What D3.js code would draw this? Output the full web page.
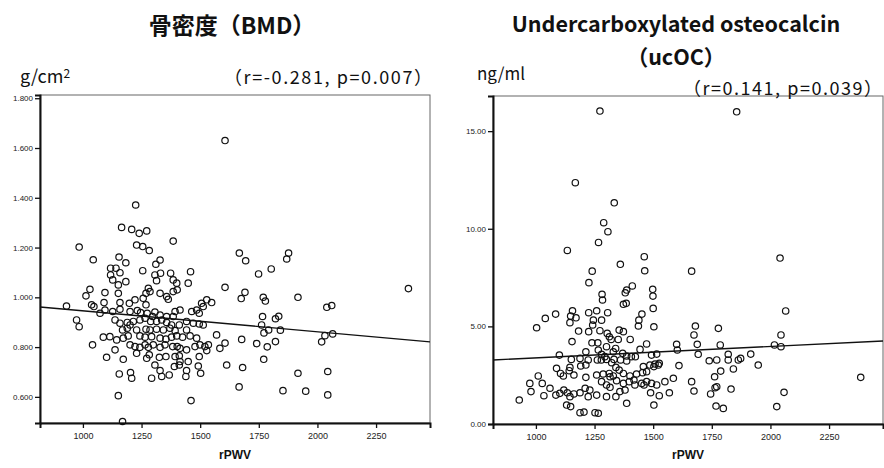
<!DOCTYPE html>
<html>
<head>
<meta charset="utf-8">
<script src="https://cdn.jsdelivr.net/npm/d3@7"></script>
<style>
  body { margin: 0; background: #fff; }
  svg { display: block; }
</style>
</head>
<body>
<div id="chart"></div>
<script>
// x values shared by both panels
var xTicks = [1000, 1250, 1500, 1750, 2000, 2250];
var xDomain = [817, 2480];

// left panel: BMD vs rPWV
var bmdTicks = [0.6, 0.8, 1.0, 1.2, 1.4, 1.6, 1.8];
var bmdDomain = [0.495, 1.813];
var bmdFit = [[817, 0.961], [2480, 0.821]];
var bmdPoints = [
  [1606,1.630],[1225,1.371],[1165,1.281],[1208,1.273],[1240,1.257],[1272,1.267],[1385,1.226],[984,1.202],
  [1229,1.210],[1255,1.204],[1283,1.188],[1044,1.151],[1154,1.162],[1183,1.139],[1329,1.150],[1311,1.133],
  [1118,1.117],[1141,1.117],[1158,1.099],[1255,1.107],[1307,1.090],[1331,1.097],[1118,1.090],[1127,1.070],
  [1183,1.063],[1314,1.067],[1374,1.097],[1385,1.070],[1400,1.057],[1459,1.103],[1449,1.057],[1151,1.050],
  [1279,1.036],[1269,1.016],[1286,1.023],[1329,1.016],[1357,1.003],[1364,0.992],[1385,1.023],[1402,1.030],
  [1030,1.032],[1013,1.006],[1094,1.019],[1151,1.016],[1158,0.979],[1198,0.976],[1222,0.990],[1257,0.996],
  [1269,0.970],[1037,0.970],[1047,0.963],[1090,0.979],[930,0.965],[1073,0.936],[1094,0.949],[1127,0.943],
  [1158,0.952],[1201,0.943],[1232,0.947],[1246,0.939],[1274,0.936],[1307,0.941],[1297,0.923],[1329,0.929],
  [1357,0.923],[1385,0.923],[1393,0.943],[1414,0.949],[1464,0.943],[1485,0.949],[1506,0.976],[1528,0.990],
  [1549,0.979],[1513,0.963],[1496,0.936],[973,0.909],[984,0.882],[1137,0.909],[1158,0.896],[1189,0.899],
  [1201,0.889],[1215,0.903],[1243,0.909],[1265,0.916],[1289,0.903],[1314,0.903],[1336,0.909],[1357,0.899],
  [1378,0.889],[1411,0.889],[1442,0.903],[1471,0.896],[1496,0.893],[1513,0.889],[1606,1.040],[1169,0.869],
  [1189,0.876],[1229,0.869],[1269,0.872],[1286,0.869],[1314,0.872],[1343,0.869],[1371,0.876],[1393,0.866],
  [1442,0.869],[1087,0.840],[1115,0.842],[1144,0.829],[1172,0.836],[1193,0.845],[1243,0.845],[1265,0.840],
  [1293,0.842],[1329,0.836],[1354,0.832],[1378,0.840],[1400,0.845],[1425,0.840],[1457,0.845],[1485,0.836],
  [1041,0.809],[1137,0.789],[1201,0.809],[1222,0.802],[1243,0.799],[1265,0.809],[1279,0.799],[1300,0.809],
  [1329,0.799],[1350,0.809],[1383,0.802],[1402,0.802],[1414,0.795],[1442,0.789],[1478,0.802],[1499,0.809],
  [1520,0.802],[1535,0.809],[1584,0.795],[1606,0.816],[1570,0.849],[1101,0.759],[1172,0.751],[1229,0.775],
  [1272,0.755],[1283,0.769],[1326,0.759],[1354,0.762],[1393,0.762],[1411,0.765],[1414,0.742],[1449,0.742],
  [1496,0.762],[1492,0.724],[1528,0.786],[1613,0.728],[1155,0.692],[1203,0.698],[1208,0.675],[1293,0.675],
  [1307,0.728],[1329,0.706],[1336,0.682],[1368,0.688],[1390,0.722],[1411,0.728],[1439,0.682],[1442,0.706],
  [1502,0.695],[1151,0.605],[1461,0.585],[1169,0.501],
  [1667,1.178],[1694,1.147],[1877,1.178],[1869,1.154],[1749,1.094],[1803,1.114],[2388,1.035],[1691,1.020],
  [1675,0.995],[1769,1.000],[1778,0.985],[1917,1.000],[2040,0.960],[2061,0.967],[1766,0.923],[1821,0.914],
  [1835,0.924],[1762,0.889],[1792,0.869],[1772,0.857],[1842,0.868],[1677,0.831],[1741,0.814],[1786,0.801],
  [1821,0.822],[2032,0.846],[2018,0.821],[2065,0.853],[1771,0.751],[1681,0.718],[1917,0.695],[2044,0.702],
  [1666,0.640],[1853,0.625],[1950,0.623],[2044,0.608]
];

// right panel: ucOC vs rPWV
var ucocTicks = [0, 5, 10, 15];
var ucocDomain = [0, 16.8];
var ucocFit = [[817, 3.28], [2480, 4.25]];
var ucocPoints = [
  [1273,16.03],[1168,12.36],[1334,11.33],[1289,10.31],[1307,9.85],[1267,9.30],[1134,8.89],[1462,8.57],[1360,8.18],
  [1240,7.83],[1464,7.85],[1226,7.24],[1411,7.07],[1387,6.86],[1381,6.72],[1498,6.90],[1499,6.55],[1282,6.64],
  [1284,6.35],[1385,6.18],[1373,6.13],[1500,5.92],[1452,5.63],[1439,5.32],[1437,5.02],[1503,4.98],[1084,5.63],
  [1040,5.41],[1003,4.93],[1156,5.80],[1148,5.53],[1171,5.44],[1145,5.19],[1225,5.70],[1259,5.80],[1306,5.70],
  [1245,5.32],[1280,5.32],[1242,5.07],[1182,4.76],[1225,4.73],[1273,4.78],[1304,4.64],[1313,4.47],[1355,4.81],
  [1373,4.73],[1321,4.33],[1351,4.33],[1402,4.33],[1154,4.22],[1239,4.16],[1264,4.16],[1301,3.96],[1340,3.87],
  [1472,4.10],[1600,4.08],[1603,3.79],[1100,3.53],[1151,3.31],[1213,3.70],[1266,3.79],[1280,3.57],[1294,3.45],
  [1330,3.70],[1370,3.62],[1387,3.48],[1407,3.45],[1424,3.45],[1444,3.82],[1493,3.53],[1515,3.58],[1188,3.36],
  [1223,3.28],[1262,3.28],[1279,3.28],[1301,3.31],[1333,3.31],[1361,3.28],[1387,3.23],[1458,2.94],[1486,3.02],
  [1508,3.07],[1522,3.02],[1088,2.85],[1145,2.90],[1191,2.97],[1213,3.02],[1105,2.59],[1117,2.46],[1142,2.73],
  [1162,2.51],[1213,2.39],[1259,2.51],[1287,2.56],[1313,2.59],[1330,2.46],[1355,2.76],[1373,2.59],[1401,2.46],
  [1429,2.56],[1455,2.63],[1472,2.68],[1503,2.94],[1526,3.11],[1010,2.46],[974,2.08],[979,1.66],[1027,2.08],
  [1060,1.83],[1034,1.45],[1085,1.48],[1102,1.57],[1119,1.74],[1134,1.60],[1145,1.40],[1162,1.54],[1188,1.60],
  [1210,1.83],[1230,1.74],[1259,1.48],[1280,2.17],[1301,2.00],[1316,1.88],[1341,1.40],[1358,1.66],[1380,1.74],
  [1398,2.17],[1422,2.00],[1451,2.08],[1472,2.17],[1493,2.08],[1515,2.00],[1550,2.17],[1586,2.34],[1569,1.60],
  [1526,1.45],[1489,1.60],[1461,2.00],[1418,2.25],[1373,2.08],[1344,2.22],[929,1.23],[1131,0.97],[1148,0.89],
  [1188,0.58],[1205,0.61],[1252,0.58],[1266,0.55],[1503,0.97],[1387,1.06],[1301,1.40],[1223,1.40],[1316,2.42],
  [1341,2.90],[1323,3.14],
  [1856,15.99],[2041,8.50],[1664,7.83],[2065,5.79],[1680,5.02],[1778,4.90],[1674,4.56],[2045,4.56],[1688,4.08],
  [1786,4.05],[2017,4.05],[2045,3.96],[1692,3.57],[1820,3.57],[1916,3.58],[1739,3.24],[1771,3.28],[1820,3.28],
  [1863,3.28],[1873,3.36],[1948,3.02],[1610,2.99],[1842,2.82],[1788,2.71],[1762,2.42],[1664,2.17],[2385,2.39],
  [1771,1.91],[1764,1.86],[1674,1.69],[1745,1.54],[1832,1.79],[2058,1.62],[1768,0.92],[1799,0.80],[2027,0.89]
];

var W = 884, H = 468;
var svg = d3.select("#chart").append("svg")
    .attr("width", W)
    .attr("height", H)
    .style("background", "#fff");

var cjk = "'Noto Sans CJK JP', 'Noto Sans', sans-serif";

function drawPanel(p) {
    var x = d3.scaleLinear().domain(xDomain).range([p.left, p.right]);
    var y = d3.scaleLinear().domain(p.yDomain).range([p.bottom, p.top]);
    var g = svg.append("g");

    // frame (top and right are thin grey)
    g.append("rect")
        .attr("x", p.left).attr("y", p.top)
        .attr("width", p.right - p.left).attr("height", p.bottom - p.top)
        .attr("fill", "none")
        .attr("stroke", "#666")
        .attr("stroke-width", 1);

    var yAxis = g.append("g")
        .attr("transform", "translate(" + p.left + ",0)")
        .call(d3.axisLeft(y).tickValues(p.yTicks).tickFormat(d3.format(p.yFormat)).tickSize(5).tickPadding(2));
    var xAxis = g.append("g")
        .attr("transform", "translate(0," + p.bottom + ")")
        .call(d3.axisBottom(x).tickValues(xTicks).tickFormat(d3.format("d")).tickSize(5).tickPadding(5));

    [yAxis, xAxis].forEach(function(a){
        a.select(".domain").attr("stroke", "#111").attr("stroke-width", 2);
        a.selectAll(".tick line").attr("stroke", "#111").attr("stroke-width", 1.3);
        a.selectAll(".tick text")
            .attr("font-family", "'Liberation Sans', Arial, sans-serif")
            .attr("font-size", "9px")
            .attr("fill", "#222");
    });
    yAxis.selectAll(".tick text").attr("font-size", "8px");

    // regression line
    g.append("line")
        .attr("x1", x(p.fit[0][0])).attr("y1", y(p.fit[0][1]))
        .attr("x2", x(p.fit[1][0])).attr("y2", y(p.fit[1][1]))
        .attr("stroke", "#111")
        .attr("stroke-width", 1.4);

    // points
    g.selectAll("circle.pt")
        .data(p.points)
        .enter()
        .append("circle")
            .attr("class", "pt")
            .attr("cx", function(d){ return x(d[0]); })
            .attr("cy", function(d){ return y(d[1]); })
            .attr("r", 3.2)
            .attr("fill", "none")
            .attr("stroke", "#111")
            .attr("stroke-width", 1.2);

    // x axis title
    g.append("text")
        .attr("x", (p.left + p.right) / 2)
        .attr("y", 459)
        .attr("text-anchor", "middle")
        .attr("font-family", "'Liberation Sans', Arial, sans-serif")
        .attr("font-weight", "bold")
        .attr("font-size", "12px")
        .attr("fill", "#111")
        .text("rPWV");

    // unit and correlation text
    var unit = g.append("text")
        .attr("x", p.unitX)
        .attr("y", p.unitY)
        .attr("font-family", cjk)
        .attr("font-size", p.unitSize)
        .attr("fill", "#111")
        .text(p.unit);
    if (p.unitSup) {
        unit.append("tspan").attr("dy", -5).attr("font-size", "12px").text(p.unitSup);
    }

    g.append("text")
        .attr("x", p.statX)
        .attr("y", p.statY)
        .attr("font-family", cjk)
        .attr("font-size", "18px")
        .attr("fill", "#111")
        .attr("textLength", p.statW)
        .attr("lengthAdjust", "spacing")
        .text(p.stat);

    // title lines
    p.title.forEach(function(t, i){
        g.append("text")
            .attr("x", p.titleX)
            .attr("y", p.titleY + i * 33)
            .attr("text-anchor", "middle")
            .attr("font-family", cjk)
            .attr("font-weight", "bold")
            .attr("font-size", p.titleSize)
            .attr("fill", "#111")
            .text(t);
    });
}

drawPanel({
    left: 40, right: 430, top: 95, bottom: 423,
    yDomain: bmdDomain, yTicks: bmdTicks, yFormat: ".3f",
    points: bmdPoints, fit: bmdFit,
    unit: "g/cm", unitSup: "2", unitX: 20, unitY: 83, unitSize: "18px",
    stat: "（r=-0.281, p=0.007）", statX: 224, statY: 84, statW: 208,
    title: ["骨密度（BMD）"], titleX: 232, titleY: 34, titleSize: "23px"
});

drawPanel({
    left: 493, right: 883, top: 96, bottom: 424,
    yDomain: ucocDomain, yTicks: ucocTicks, yFormat: ".2f",
    points: ucocPoints, fit: ucocFit,
    unit: "ng/ml", unitX: 477, unitY: 80, unitSize: "17px",
    stat: "（r=0.141, p=0.039）", statX: 683, statY: 95, statW: 199,
    title: ["Undercarboxylated osteocalcin", "（ucOC）"], titleX: 676, titleY: 32, titleSize: "21.5px"
});
</script>
</body>
</html>
